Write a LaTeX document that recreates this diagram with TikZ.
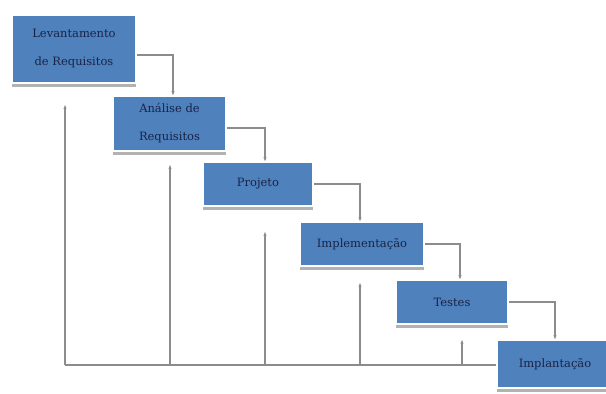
\documentclass[tikz,border=0pt]{standalone}
\usepackage{fontspec}
\setmainfont{DejaVu Serif}
\usetikzlibrary{shadows,arrows.meta}
\definecolor{boxblue}{RGB}{79,129,189}
\definecolor{txtblue}{RGB}{25,35,70}
\definecolor{linegray}{RGB}{140,140,140}
\begin{document}
\begin{tikzpicture}[x=1pt,y=-1pt,>={Stealth[length=4pt,width=3pt]},
	fase/.style={rectangle,fill=boxblue,draw=white,line width=1.5pt,
		inner sep=0pt,text=txtblue,align=center,
		font=\fontsize{11.5}{28}\selectfont,
		general shadow={fill=gray!60,shadow xshift=0pt,shadow yshift=-4pt}},
	conn/.style={draw=linegray,line width=1.3pt,->},
	fb/.style={draw=linegray,line width=1.3pt,->}
	]
	\useasboundingbox (0,0) rectangle (606,394);
	\fill[white] (0,0) rectangle (606,394);
	% fases
	\node[fase,minimum width=124pt,minimum height=68pt] (lev) at (74,49) {Levantamento\\de Requisitos};
	\node[fase,minimum width=113pt,minimum height=55pt] (ana) at (169.5,123.5) {Análise de\\Requisitos};
	\node[fase,minimum width=110pt,minimum height=44pt] (proj) at (258,184) {Projeto};
	\node[fase,minimum width=124pt,minimum height=44pt] (impl) at (362,244) {Implementação};
	\node[fase,minimum width=112pt,minimum height=44pt] (test) at (452,302) {Testes};
	\node[fase,minimum width=116pt,minimum height=48pt] (impt) at (555,364) {Implantação};
	% cascata
	\draw[conn] ([yshift=-6pt]lev.east) -| ([xshift=3.5pt]ana.north);
	\draw[conn] ([yshift=-4.5pt]ana.east) -| ([xshift=7pt]proj.north);
	\draw[conn] (proj.east) -| ([xshift=-2pt]impl.north);
	\draw[conn] (impl.east) -| ([xshift=8pt]test.north);
	\draw[conn] (test.east) -| (impt.north);
	% retorno
	\coordinate (base) at (65,365);
	\coordinate (r1) at (65,105);
	\coordinate (r2) at (170,165);
	\coordinate (r3) at (265,232);
	\coordinate (r4) at (360,283);
	\coordinate (r5) at (462,340);
	\draw[draw=linegray,line width=1.3pt] (base) -- (impt.west |- base);
	\foreach \r in {r1,r2,r3,r4,r5}
		\draw[fb] (\r |- base) -- (\r);
\end{tikzpicture}
\end{document}
